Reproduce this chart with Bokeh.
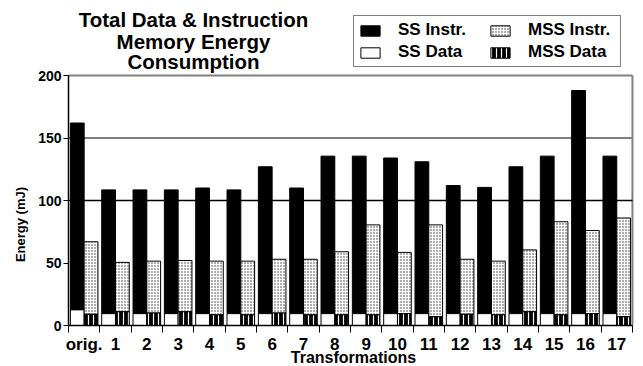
from bokeh.plotting import figure
from bokeh.models import (ColumnDataSource, Range1d, FixedTicker, Label,
                          Legend, LegendItem)
from bokeh.embed import file_html
from bokeh.resources import INLINE

# ---- data (mJ) ----
categories = ["orig.", "1", "2", "3", "4", "5", "6", "7", "8", "9",
              "10", "11", "12", "13", "14", "15", "16", "17"]
ss_data = [12.5, 9.5, 9.5, 9.5, 9.5, 9.5, 9.5, 9.5, 9.5, 9.5,
           9.5, 9.5, 9.5, 9.5, 9.5, 9.5, 9.5, 9.5]
ss_instr = [149.5, 99, 99, 99, 100.5, 99, 117.5, 100.5, 126, 126,
            124.5, 121.5, 102.5, 101, 117.5, 126, 178.5, 126]
mss_data = [9, 11, 10, 11, 8.5, 8.5, 10, 8.5, 8.5, 8.5,
            9.5, 7, 9, 8.5, 11, 8.5, 9.5, 7]
mss_instr = [58, 39.5, 41.5, 41, 43, 43, 43, 44.5, 50.5, 72,
             49, 73.5, 44, 43, 49.5, 74.5, 66.5, 79]
y_ticks = [0, 50, 100, 150, 200]
title_lines = ["Total Data & Instruction", "Memory Energy", "Consumption"]

FONT = "Liberation Sans"
n = len(categories)
idx = list(range(n))

W_PX, H_PX = 643, 366
# frame covers the whole figure; data -> pixel layout
PX_PER_GROUP = 31.33
X0_PX = 68.0            # pixel of group boundary 0
PX_PER_UNIT = 1.25
Y0_PX = 325.0           # pixel (from top) of value 0
x_start = -X0_PX / PX_PER_GROUP
x_end = x_start + W_PX / PX_PER_GROUP
y_end = Y0_PX / PX_PER_UNIT
y_start = -(H_PX - Y0_PX) / PX_PER_UNIT

src = ColumnDataSource(dict(
    ss_x=[i + 0.28 for i in idx],
    mss_x=[i + 0.72 for i in idx],
    ss_d0=[0] * n,
    ss_d1=ss_data,
    ss_i1=[a + b for a, b in zip(ss_data, ss_instr)],
    mss_d0=[0] * n,
    mss_d1=mss_data,
    mss_i1=[a + b for a, b in zip(mss_data, mss_instr)],
))

p = figure(width=W_PX, height=H_PX, output_backend="svg", toolbar_location=None,
           x_range=Range1d(x_start, x_end), y_range=Range1d(y_start, y_end),
           min_border=0)
p.title = None
p.background_fill_color = "white"
p.border_fill_color = "white"
p.outline_line_color = None
p.xgrid.grid_line_color = None
p.ygrid.grid_line_color = None

# frame lines: gray at 150 / 200 and right edge, black at 100
p.segment(x0=[0, 0], x1=[n, n], y0=[150, 200], y1=[150, 200],
          line_color="#808080", line_width=2)
p.segment(x0=[n], x1=[n], y0=[0], y1=[200], line_color="#808080", line_width=2)
p.segment(x0=[0], x1=[n], y0=[100], y1=[100], line_color="black", line_width=1.5)

W = 0.44
r_ss_i = p.vbar(x="ss_x", bottom="ss_d1", top="ss_i1", width=W, source=src,
                fill_color="black", line_color="black", line_width=1)
r_ss_d = p.vbar(x="ss_x", bottom="ss_d0", top="ss_d1", width=W, source=src,
                fill_color="white", line_color="black", line_width=1)
r_mss_i = p.vbar(x="mss_x", bottom="mss_d1", top="mss_i1", width=W, source=src,
                 fill_color="white", line_color="black", line_width=1,
                 hatch_pattern=".", hatch_color="#333333", hatch_scale=3,
                 hatch_weight=1.5)
r_mss_d = p.vbar(x="mss_x", bottom="mss_d0", top="mss_d1", width=W, source=src,
                 fill_color="black", line_color="black", line_width=1,
                 hatch_pattern="|", hatch_color="white", hatch_scale=5,
                 hatch_weight=1.2)

# y axis (drawn at x = 0 inside the frame)
ya = p.yaxis[0]
ya.fixed_location = 0
ya.bounds = (0, 200)
ya.ticker = FixedTicker(ticks=y_ticks)
ya.minor_tick_line_color = None
ya.major_tick_in = 0
ya.major_tick_out = 5
ya.major_label_standoff = 2
ya.axis_line_width = 1.5
ya.axis_line_color = "black"
ya.major_tick_line_color = "black"
ya.major_label_text_font = FONT
ya.major_label_text_font_style = "bold"
ya.major_label_text_font_size = "14px"
ya.major_label_text_color = "black"

# x axis (drawn at y = 0 inside the frame)
xa = p.xaxis[0]
xa.fixed_location = 0
xa.bounds = (0, n)
xa.ticker = FixedTicker(ticks=[i + 0.5 for i in idx], minor_ticks=list(range(n + 1)))
xa.major_label_overrides = {i + 0.5: c for i, c in zip(idx, categories)}
xa.major_tick_line_color = None
xa.major_tick_out = 0
xa.major_tick_in = 0
xa.minor_tick_in = 0
xa.minor_tick_out = 7
xa.minor_tick_line_color = "black"
xa.minor_tick_line_width = 1
xa.axis_line_width = 1.5
xa.axis_line_color = "black"
xa.major_label_standoff = 2
xa.major_label_text_font = FONT
xa.major_label_text_font_style = "bold"
xa.major_label_text_font_size = "17px"
xa.major_label_text_color = "black"

# axis titles (screen units from the bottom-left of the frame)
p.add_layout(Label(x=353, y=9, x_units="screen", y_units="screen",
                   text="Transformations", text_align="center",
                   text_baseline="alphabetic", text_font=FONT,
                   text_font_style="bold", text_font_size="16px",
                   text_color="black"))
p.add_layout(Label(x=20, y=142, x_units="screen", y_units="screen",
                   text="Energy (mJ)", angle=1.5708, text_align="center",
                   text_baseline="middle", text_font=FONT,
                   text_font_style="bold", text_font_size="13px",
                   text_color="black"))

# title lines
for txt, yy in zip(title_lines, [347, 325, 305]):
    p.add_layout(Label(x=193, y=yy, x_units="screen", y_units="screen",
                       text=txt, text_align="center", text_baseline="alphabetic",
                       text_font=FONT, text_font_style="bold",
                       text_font_size="20.5px", text_color="black"))

legend = Legend(items=[
    LegendItem(label="SS Instr.", renderers=[r_ss_i]),
    LegendItem(label="SS Data", renderers=[r_ss_d]),
    LegendItem(label="MSS Instr.", renderers=[r_mss_i]),
    LegendItem(label="MSS Data", renderers=[r_mss_d]),
], location=(353, 299), ncols=2)
legend.label_text_font = FONT
legend.label_text_font_style = "bold"
legend.label_text_font_size = "17px"
legend.label_text_color = "black"
legend.glyph_width = 24
legend.glyph_height = 13
legend.label_standoff = 16
legend.label_width = 88
legend.label_height = 16
legend.spacing = 2
legend.padding = 4
legend.margin = 0
legend.border_line_color = "black"
legend.border_line_width = 1.5
legend.background_fill_color = "white"
legend.background_fill_alpha = 1
p.add_layout(legend, "center")

open("out.html", "w").write(file_html(p, INLINE))
